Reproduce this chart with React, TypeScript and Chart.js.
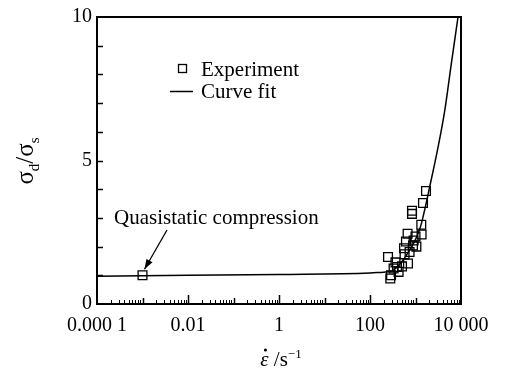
import React, { useEffect, useRef } from "react";
import { Chart, registerables } from "chart.js";

Chart.register(...registerables);

// Experimental points: strain rate (s^-1) and normalised dynamic strength
const expStrainRate = [0.001, 1702, 1462, 838, 838, 1340, 1360, 670, 617, 908, 881, 741, 575, 249, 684, 505, 392, 330, 425, 290, 279, 560, 1047, 1000, 363];
const expStress = [1.0, 3.94, 3.52, 3.25, 3.14, 2.76, 2.42, 2.45, 2.18, 2.21, 2.04, 1.81, 1.73, 1.64, 1.41, 1.31, 1.29, 1.24, 1.12, 1.0, 0.89, 1.94, 2.0, 2.35, 1.45];

// Curve fit
const fitStrainRate = [0.0001, 0.01, 1, 100, 200, 279, 400, 597, 900, 1275, 2115, 3220, 4365, 6120, 8600];
const fitStress = [0.97, 1.0, 1.03, 1.08, 1.11, 1.13, 1.3, 1.64, 2.1, 2.67, 4.18, 5.56, 6.71, 8.37, 10.0];

const xTickValues = [0.0001, 0.01, 1, 100, 10000];
const xTickLabels = ["0.000 1", "0.01", "1", "100", "10 000"];
const yTickValues = [0, 5, 10];

const SERIF = "'Liberation Serif', 'Times New Roman', serif";

const decoPlugin = {
  id: "deco",
  afterDraw(chart: any) {
    const { ctx, chartArea: a, scales } = chart;
    const x = scales.x;
    const y = scales.y;
    ctx.save();
    ctx.strokeStyle = "#000";
    ctx.fillStyle = "#000";
    // frame
    ctx.lineWidth = 2;
    ctx.beginPath();
    ctx.rect(a.left, a.top, a.right - a.left, a.bottom - a.top);
    ctx.stroke();

    const seg = (x1: number, y1: number, x2: number, y2: number) => {
      ctx.beginPath();
      ctx.moveTo(x1, y1);
      ctx.lineTo(x2, y2);
      ctx.stroke();
    };

    // y ticks (inward)
    ctx.lineWidth = 1.5;
    for (let v = 1; v < 10; v++) {
      const py = Math.round(y.getPixelForValue(v)) + 0.5;
      seg(a.left, py, a.left + 6, py);
    }
    // x ticks (inward, log)
    for (let d = -4; d < 4; d++) {
      for (let m = 1; m < 10; m++) {
        const v = m * Math.pow(10, d);
        const px = Math.round(x.getPixelForValue(v)) + 0.5;
        if (px <= a.left + 1) continue;
        let len = 4;
        if (m === 1) len = d % 2 === 0 ? 9 : 6;
        ctx.lineWidth = m === 1 ? 1.5 : 1;
        seg(px, a.bottom, px, a.bottom - len);
      }
    }

    // legend
    ctx.lineWidth = 1.3;
    ctx.strokeRect(178.5, 64.5, 8, 8);
    ctx.lineWidth = 1.5;
    seg(170, 91.5, 193, 91.5);
    ctx.font = `21px ${SERIF}`;
    ctx.textBaseline = "alphabetic";
    ctx.textAlign = "left";
    ctx.fillText("Experiment", 201, 76);
    ctx.fillText("Curve fit", 201, 98);

    // annotation
    ctx.fillText("Quasistatic compression", 114, 224);
    const x1 = 167, y1 = 230;
    const x2 = x.getPixelForValue(expStrainRate[0]) + 2;
    const y2 = y.getPixelForValue(expStress[0]) - 6;
    ctx.lineWidth = 1.3;
    seg(x1, y1, x2, y2);
    const ang = Math.atan2(y2 - y1, x2 - x1);
    const hl = 10, hw = 3.5;
    ctx.beginPath();
    ctx.moveTo(x2, y2);
    ctx.lineTo(x2 - hl * Math.cos(ang) + hw * Math.sin(ang), y2 - hl * Math.sin(ang) - hw * Math.cos(ang));
    ctx.lineTo(x2 - hl * Math.cos(ang) - hw * Math.sin(ang), y2 - hl * Math.sin(ang) + hw * Math.cos(ang));
    ctx.closePath();
    ctx.fill();

    // y title: σd/σs rotated
    ctx.save();
    ctx.translate(33, 161);
    ctx.rotate(-Math.PI / 2);
    const big = `25px ${SERIF}`;
    const small = `15px ${SERIF}`;
    const parts: [string, string, number][] = [
      ["σ", big, 0],
      ["d", small, 6],
      ["/", big, 0],
      ["σ", big, 0],
      ["s", small, 6],
    ];
    let total = 0;
    for (const [t, f] of parts) {
      ctx.font = f;
      total += ctx.measureText(t).width;
    }
    let cx = -total / 2;
    for (const [t, f, dy] of parts) {
      ctx.font = f;
      ctx.fillText(t, cx, dy);
      cx += ctx.measureText(t).width;
    }
    ctx.restore();

    // x title: ε̇ /s^-1
    const eps = "ε";
    const xbig = `21px ${SERIF}`;
    const xsmall = `13px ${SERIF}`;
    ctx.font = `italic 21px ${SERIF}`;
    const wE = ctx.measureText(eps).width;
    ctx.font = xbig;
    const wS = ctx.measureText(" /s").width;
    ctx.font = xsmall;
    const wP = ctx.measureText("−1").width;
    const tw = wE + wS + wP;
    let sx = 281 - tw / 2;
    const base = 366;
    ctx.font = `italic 21px ${SERIF}`;
    ctx.fillText(eps, sx, base);
    ctx.beginPath();
    ctx.arc(sx + wE / 2 + 1, base - 16, 1.6, 0, Math.PI * 2);
    ctx.fill();
    sx += wE;
    ctx.font = xbig;
    ctx.fillText(" /s", sx, base);
    sx += wS;
    ctx.font = xsmall;
    ctx.fillText("−1", sx, base - 8);

    ctx.restore();
  },
};

export default function App() {
  const ref = useRef<HTMLCanvasElement | null>(null);

  useEffect(() => {
    document.body.style.margin = "0";
    const canvas = ref.current;
    if (!canvas) return;
    const chart = new Chart(canvas, {
      type: "scatter",
      data: {
        datasets: [
          {
            label: "Experiment",
            data: expStrainRate.map((v, i) => ({ x: v, y: expStress[i] })),
            showLine: false,
            pointStyle: "rect",
            pointRadius: 6.2,
            pointBorderWidth: 1.3,
            borderColor: "#000",
            backgroundColor: "rgba(0,0,0,0)",
          },
          {
            label: "Curve fit",
            data: fitStrainRate.map((v, i) => ({ x: v, y: fitStress[i] })),
            showLine: true,
            pointRadius: 0,
            borderColor: "#000",
            borderWidth: 1.5,
            cubicInterpolationMode: "monotone",
          },
        ],
      },
      options: {
        animation: false,
        responsive: false,
        devicePixelRatio: 1,
        layout: { padding: { top: 15, right: 47, left: 0, bottom: 0 } },
        plugins: {
          legend: { display: false },
          tooltip: { enabled: false },
        },
        scales: {
          x: {
            type: "logarithmic",
            min: 0.0001,
            max: 10000,
            grid: { display: false, drawTicks: false },
            border: { display: false },
            afterBuildTicks: (s: any) => {
              s.ticks = xTickValues.map((v) => ({ value: v }));
            },
            afterFit: (s: any) => {
              s.height = 72;
            },
            ticks: {
              color: "#000",
              maxRotation: 0,
              autoSkip: false,
              padding: 10,
              font: { family: SERIF, size: 20 },
              callback: (v: any) => {
                const i = xTickValues.findIndex((t) => Math.abs(Math.log10(t) - Math.log10(Number(v))) < 1e-6);
                return i >= 0 ? xTickLabels[i] : "";
              },
            },
          },
          y: {
            type: "linear",
            min: 0,
            max: 10,
            grid: { display: false, drawTicks: false },
            border: { display: false },
            afterBuildTicks: (s: any) => {
              s.ticks = yTickValues.map((v) => ({ value: v }));
            },
            afterFit: (s: any) => {
              s.width = 97;
            },
            ticks: {
              color: "#000",
              padding: 5,
              font: { family: SERIF, size: 20 },
            },
          },
        },
      },
      plugins: [decoPlugin],
    } as any);
    return () => chart.destroy();
  }, []);

  return (
    <div style={{ position: "absolute", left: 0, top: 0, width: 508, height: 376, background: "#fff" }}>
      <canvas ref={ref} width={508} height={376} />
    </div>
  );
}
